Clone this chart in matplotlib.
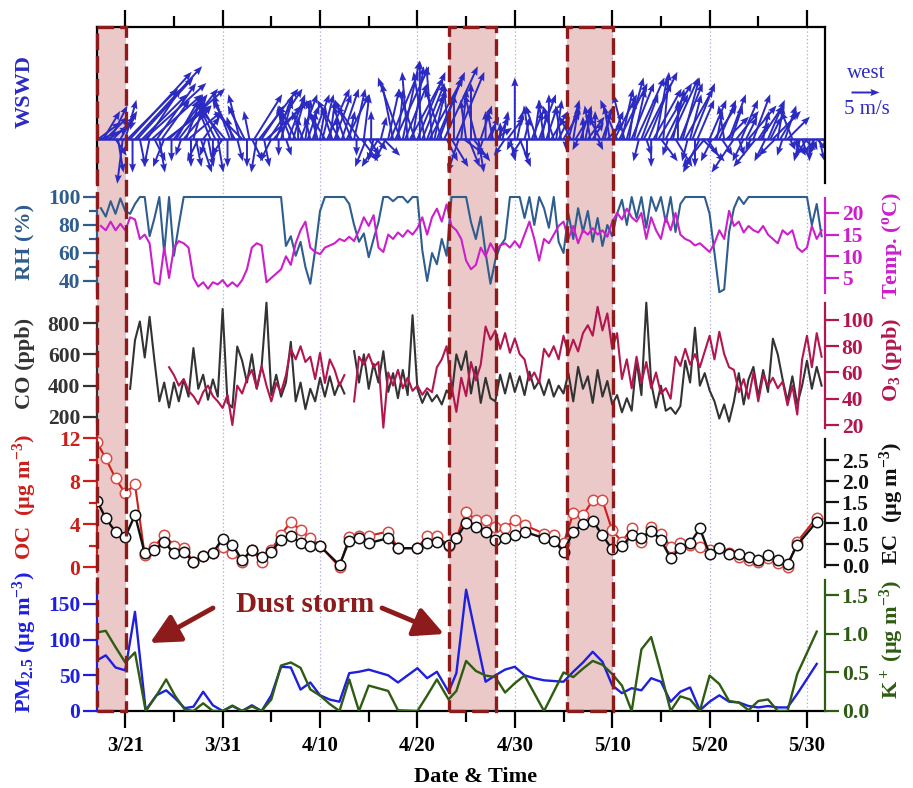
import numpy as np
import matplotlib
matplotlib.use("Agg")
import matplotlib.pyplot as plt
from matplotlib.patches import Rectangle
from matplotlib.ticker import FormatStrFormatter

plt.rcParams['font.family'] = 'Liberation Serif'
plt.rcParams['font.weight'] = 'bold'
plt.rcParams['mathtext.fontset'] = 'custom'
plt.rcParams['mathtext.rm'] = 'Liberation Serif:bold'
plt.rcParams['mathtext.it'] = 'Liberation Serif:bold'
plt.rcParams['mathtext.bf'] = 'Liberation Serif:bold'
plt.rcParams['mathtext.default'] = 'rm'

# ---- data (x = days since 3/1) ----
major_days = [20, 30, 40, 50, 60, 70, 80, 90]
date_labels = ['3/21', '3/31', '4/10', '4/20', '4/30', '5/10', '5/20', '5/30']
minor_days = [25, 35, 45, 55, 65, 75, 85]
storm_spans = [(17.12, 20.1), (53.2, 58.1), (65.4, 70.1)]

# wind vectors (m/s), every 6 h from 3/18 06:00
wind_u = [4, 5, 3, 4, 5, 3, 4, 2, 1, 3, -1, 2, 9, 11, 0, 12, 10, 1, 8, 11,
          6, -1, 9, 2, 7, 1, 5, -2, 8, 10, 0, 6, 4, 7, -1, 5, 3, 6, 0, 2,
          1, -2, 2, 3, -1, 1, -2, 0, -3, 1, -4, -2, -5, 0, -3, -1, -4, 1, -2, -5,
          -3, 0, -1, 2, 5, -1, 7, 4, 1, 8, 6, -2, 5, 3, 0, 2, -1, 1, 3, -2,
          2, -3, 0, 3, -2, 1, 2, -1, 3, 0, -2, 1, 2, -3, 4, 1, -2, 3, 0, -4,
          3, -2, 4, 1, -3, 2, 0, -4, 3, 1, -2, 2, 0, -1, 2, -3, 1, 3, -2, 2,
          5, -2, 6, 1, -4, 3, 4, -1, 6, 2, -3, 5, 0, 4, -2, 3, 6, -1, 2, 5,
          4, -3, 6, 2, -1, 3, 0, 5, -2, 1, 4, -1, 2, 0, 3, -2, 1, 2, -1, 0,
          2, 1, -1, 3, 2, 0, 1, -2, 3, 1, -1, 0, 1, 2, -2, 1, 0, -1, 2, 1,
          -2, 3, 1, -1, 2, 0, 3, -2, 1, 2, -1, 3, 0, 2, -2, 1, 3, -1, 2, 0,
          1, 3, -1, 2, 0, 1, -2, 2, 1, 3, -1, 2, 4, -3, 5, 2, -2, 3, 1, 4,
          2, 5, -1, 3, 6, 1, 4, 0, 5, 2, 6, 3, 1, 4, -1, 5, 2, 3, 0, 4,
          3, 5, -1, 2, 4, 0, 3, -3, 4, -4, 2, 3, -2, 4, 1, 3, 2, -1, 4, 3,
          2, -4, 4, 1, 3, -2, 2, 5, -1, 3, -4, 2, 4, 1, -2, 3, 2, 5, -3, 1,
          3, -1, 2, 4, 1, -2, 2, 0, -1, 1, 2, -2, 0, 1, -1, 2, 1, 3, 2]
wind_v = [3, 2, 5, 4, 3, 6, 4, -3, -6, 5, -8, 7, 9, 12, -6, 13, 11, -5, 8, 10,
          9, -5, 8, -4, 10, -6, 7, -5, 6, 9, -4, 8, 7, 9, -3, 6, 8, 5, -5, 7,
          -5, -4, -6, 4, -3, -5, 5, -4, 6, -6, 7, -3, 6, -5, 8, 4, 7, -4, 8, 5,
          6, -5, 5, -4, 8, -6, 9, 6, -5, 7, 9, -4, 6, 8, -3, 7, 6, -3, 8, 5,
          7, 6, 4, 8, 5, 7, 6, 4, 8, 5, 7, 6, 8, 5, 9, 7, 6, 8, 4, 7,
          9, 6, 8, 5, 7, 9, -3, 6, -4, 8, -5, -3, 5, -4, -2, -5, 4, -3, -4, 9,
          12, 10, 13, 9, 11, 14, 10, 12, 11, 13, 9, 12, 14, 10, 12, 8, 11, 13, 9, 12,
          11, 9, 13, -4, 10, -5, 8, 12, -6, 9, -3, 7, -5, 10, -4, 8, -6, 6, -3, 5,
          4, 3, 5, 2, 4, 3, 5, -3, 4, -4, -2, 11, 5, -5, -3, 4, -4, 6, 5, 7,
          6, 8, 5, 7, 6, 8, 5, 6, 7, 4, 6, 5, -2, 7, 4, 6, 5, -2, 6, 4,
          5, 4, 6, 3, 5, -2, 4, 6, 5, 3, 6, 5, 8, 7, 10, 9, 8, 11, 7, 10,
          9, 11, -4, 8, 12, -3, 10, -5, 9, 11, 10, -4, 12, 8, -3, 11, 9, -5, 7, 10,
          11, 9, -4, 8, 10, -5, 7, -6, -4, -5, -3, 7, -4, 6, 5, 7, -3, 6, 4, 8,
          6, -6, 5, -3, 7, -4, 4, 6, -2, 8, -5, 3, 6, 5, -4, 7, 4, 5, -3, 6,
          5, -3, 6, 4, -2, 5, -3, -2, -4, -3, -2, -3, -4, -2, -3, -2, -4, -2, -3]

# meteorology / gases, every 12 h from 3/18 12:00
rh = [92, 86, 97, 88, 99, 90, 88, 95, 100, 100,
      72, 85, 100, 60, 100, 58, 80, 100, 100, 100,
      100, 100, 100, 100, 100, 100, 100, 100, 100, 100,
      100, 100, 100, 100, 100, 100, 100, 100, 65, 72,
      58, 68, 50, 38, 62, 90, 100, 100, 100, 100,
      100, 95, 80, 68, 74, 57, 70, 82, 100, 100,
      97, 100, 100, 96, 100, 100, 62, 40, 60, 52,
      70, 58, 100, 100, 100, 100, 82, 70, 86, 60,
      38, 55, 65, 70, 100, 100, 100, 85, 100, 80,
      100, 92, 78, 100, 68, 60, 88, 70, 92, 75,
      90, 68, 85, 65, 80, 72, 88, 98, 80, 100,
      85, 100, 78, 100, 90, 100, 82, 100, 75, 95,
      100, 100, 100, 100, 100, 88, 60, 32, 34, 75,
      92, 100, 95, 100, 100, 100, 100, 100, 100, 100,
      100, 100, 100, 100, 100, 100, 80, 95, 72]
temp = [17, 16, 18, 16, 17.5, 16, 19, 18.5, 14, 15,
        13, 4, 3.5, 12, 5, 12, 13.5, 13, 12, 5,
        3, 4, 2.5, 4, 3.5, 4.5, 3, 4, 3, 4.5,
        7, 12, 13, 12.5, 4, 5, 6, 7, 10, 8,
        13, 16, 18, 12, 11, 10.5, 12, 12.5, 13, 14,
        13.5, 14.5, 13.5, 16, 19, 17, 19.5, 12, 11, 15,
        14, 15.5, 14.5, 16, 15, 16.5, 19, 15, 19, 21,
        18, 22, 17, 16, 14, 9, 7, 8, 12, 10,
        13, 11, 12.5, 13, 12, 13.5, 12, 15, 18, 14,
        9, 14, 13, 15, 17, 18, 14, 17, 13, 16,
        15, 16.5, 15, 16, 14.5, 18, 20, 18.5, 21, 19,
        18, 20, 14, 19, 16, 14, 19, 16, 20, 15,
        14, 13.5, 12.5, 13, 12, 11, 13, 16, 14, 20.5,
        17, 18, 15.5, 17, 16, 15.5, 17, 15, 14, 13,
        16, 15, 16, 12, 11, 12, 17, 14, 16]
co = [None, None, None, None, None, None, 380, 690, 810, 580,
      840, 560, 300, 420, 260, 420, 300, 440, 330, 640,
      380, 470, 310, 440, 330, 890, 290, 260, 650, 560,
      420, 600, 380, 520, 930, 340, 470, 330, 420, 680,
      300, 420, 250, 380, 300, 450, 330, 460, 340, 420,
      350, None, 620, 420, 600, 380, 540, 420, 620, 360,
      480, 320, 500, 340, 850, 380, 290, 360, 300, 340,
      280, 370, 330, 600, 500, 620, 350, 520, 290, 450,
      320, 300, 470, 350, 480, 360, 460, 340, 490, 380,
      430, 340, 440, 330, 400, 350, 480, 300, 520, 380,
      460, 290, 500, 330, 430, 280, 340, 230, 320, 240,
      560, 340, 930, 420, 260, 400, 240, 260, 220, 270,
      560, 420, 770, 400, 480, 370, 300, 190, 280, 170,
      300, 480, 280, 440, 520, 330, 500, 360, 700, 600,
      440, 300, 460, 280, 400, 560, 380, 520, 400]
o3 = [None, None, None, None, None, None, None, None, None, None,
      None, None, None, None, 64, 58, 50, 55, 46, 42,
      36, 45, 50, 42, 38, 33, 43, 20, 50, 44,
      55, 62, 48, 65, 50, 38, 52, 45, 58, 78,
      70, 80, 68, 72, 55, 75, 52, 70, 62, 50,
      58, None, 38, 72, 66, 74, 64, 68, 18, 60,
      50, 62, 48, 56, 46, 50, 43, 48, 45, 64,
      70, 80, 50, 30, 56, 42, 68, 54, 66, 95,
      85, 92, 78, 90, 75, 86, 74, 70, 54, 60,
      52, 78, 72, 80, 70, 88, 74, 85, 76, 90,
      96, 88, 110, 92, 105, 78, 90, 55, 70, 48,
      72, 52, 68, 48, 60, 44, 48, 40, 72, 65,
      78, 66, 74, 64, 76, 88, 70, 91, 74, 64,
      62, 45, 55, 40, 60, 38, 58, 50, 56, 48,
      53, 35, 50, 28, 70, 88, 64, 90, 72]

# daily filter samples
carbon_days = [17.1, 18, 19, 20, 21, 22, 23, 24, 25, 26,
               27, 28, 29, 30, 31, 32, 33, 34, 35, 36,
               37, 38, 39, 40, 42, 43, 44, 45, 47, 48,
               50, 51, 52, 53.2, 54, 55, 56, 57, 58, 59,
               60, 61, 63, 64, 65, 66, 67, 68, 69, 70,
               71, 72, 73, 74, 75, 76, 77, 78, 79, 80,
               81, 82, 83, 84, 85, 86, 87, 88, 89, 91]
oc = [11.6, 10.1, 8.25, 6.85, 7.7, 1.1, 1.9, 3.0, 2.0, 1.8,
      0.5, 1.05, 1.3, 1.9, 1.3, 0.5, 1.6, 0.5, 1.6, 3.0,
      4.2, 3.4, 2.7, 2.0, 0.0, 2.8, 2.9, 2.9, 3.3, 1.75,
      1.75, 2.9, 2.9, 2.0, 2.7, 5.1, 4.4, 4.4, 3.75, 3.6,
      4.4, 3.9, 3.1, 3.0, 2.2, 5.0, 4.8, 6.2, 6.2, 3.4,
      2.35, 3.6, 2.35, 3.75, 3.1, 1.9, 2.2, 2.05, 1.9, 1.6,
      1.75, 1.3, 0.95, 0.65, 0.5, 0.8, 0.35, 0.0, 2.35, 4.6]
ec = [1.53, 1.11, 0.79, 0.67, 1.19, 0.28, 0.36, 0.55, 0.28, 0.32,
      0.08, 0.22, 0.29, 0.63, 0.48, 0.12, 0.36, 0.2, 0.32, 0.6,
      0.69, 0.53, 0.45, 0.45, 0.0, 0.58, 0.64, 0.52, 0.64, 0.4,
      0.4, 0.52, 0.55, 0.48, 0.64, 1.0, 0.91, 0.79, 0.6, 0.64,
      0.71, 0.79, 0.64, 0.58, 0.32, 0.79, 0.98, 1.05, 0.71, 0.37,
      0.45, 0.71, 0.64, 0.82, 0.6, 0.16, 0.4, 0.52, 0.87, 0.26,
      0.4, 0.26, 0.26, 0.18, 0.12, 0.24, 0.12, 0.02, 0.48, 1.03]

pm_days = [17.1, 18, 19, 20, 21, 22.1, 23.2, 24.2, 25.1, 26.1,
           27, 28, 29, 30, 31, 32, 33, 34, 35, 36,
           37, 38, 39, 40, 41, 42, 43, 44, 45, 47,
           48, 50, 51, 52, 53.2, 54, 55, 56, 57, 58,
           59, 60, 61, 62, 63, 65, 66, 67, 68, 69,
           70, 71, 72, 73, 74, 75, 76, 77, 78, 79,
           80, 81, 82, 83, 84, 85, 86, 87, 88, 89, 91]
pm25 = [71, 78, 61, 57, 139, 1, 22, 29, 18, 4,
        6, 27, 8, 0, 7, 0, 8, 0, 22, 62,
        61, 30, 40, 22, 16, 13, 53, 55, 58, 50,
        40, 60, 46, 55, 27, 53, 170, 105, 41, 50,
        58, 62, 50, 46, 43, 41, 55, 68, 83, 69,
        36, 25, 32, 29, 46, 41, 13, 27, 33, 1,
        13, 22, 13, 12, 7, 5, 7, 5, 5, 24, 66]
k_ion = [1.02, 1.04, 0.83, 0.63, 0.76, 0.0, 0.2, 0.41, 0.2, 0.02,
         0.0, 0.1, 0.0, 0.0, 0.07, 0.0, 0.06, 0.0, 0.15, 0.59,
         0.63, 0.56, 0.28, 0.2, 0.09, 0.0, 0.41, 0.0, 0.33, 0.26,
         0.01, 0.0, 0.2, 0.41, 0.15, 0.26, 0.65, 0.52, 0.46, 0.44,
         0.24, 0.36, 0.46, 0.23, 0.0, 0.5, 0.44, 0.55, 0.65, 0.6,
         0.48, 0.33, 0.0, 0.8, 0.96, 0.5, 0.0, 0.19, 0.15, 0.0,
         0.46, 0.35, 0.13, 0.11, 0.01, 0.13, 0.15, 0.0, 0.0, 0.48, 1.03]

# ---- colours ----
wind_c = '#2b2bc4'
rh_c = '#2e5d8e'
temp_c = '#cc1fcc'
co_c = '#333333'
o3_c = '#b3164f'
oc_c = '#cc1f1a'
ec_c = '#111111'
pm_c = '#1f1fe0'
k_c = '#2e5c12'
dust_c = '#8e1b1b'
shade_c = '#ebc9c9'

W, H = 913, 788
fig = plt.figure(figsize=(W / 100, H / 100), dpi=100)


def box(x0, y0, x1, y1):
    return [x0 / W, 1 - y1 / H, (x1 - x0) / W, (y1 - y0) / H]


def fpos(x, y):
    return (x / W, 1 - y / H)


X0, X1 = 97, 825
t_lo, t_hi = 17.1, 91.85

# background frame: shading, grid, date axis
back = fig.add_axes(box(X0, 27, X1, 711))
back.set_xlim(t_lo, t_hi)
back.set_ylim(0, 1)
for a, b in storm_spans:
    back.axvspan(a, b, color=shade_c, lw=0)
for d in major_days[1:]:
    back.axvline(d, color='#a9a9e2', lw=0.9, ls=(0, (1, 2)))
back.set_yticks([])
back.set_xticks(major_days)
back.set_xticklabels(date_labels, fontsize=15)
back.set_xticks(minor_days, minor=True)
back.tick_params(axis='x', which='major', direction='out', length=12, width=1.6,
                 top=True, bottom=True, labeltop=False, pad=6)
back.tick_params(axis='x', which='minor', direction='out', length=8, width=1.6,
                 top=True, bottom=True)
back.spines['left'].set_visible(False)
back.spines['right'].set_visible(False)
back.spines['top'].set_linewidth(1.6)
back.spines['bottom'].set_linewidth(1.6)


def panel(y0, y1):
    ax = fig.add_axes(box(X0, y0, X1, y1))
    ax.set_xlim(t_lo, t_hi)
    ax.patch.set_visible(False)
    ax.set_xticks([])
    for s in ('top', 'bottom', 'right'):
        ax.spines[s].set_visible(False)
    return ax


def style_y(ax, side, color, lo, hi, ticks, minor=None, fmt=None):
    other = 'right' if side == 'left' else 'left'
    ax.spines[other].set_visible(False)
    sp = ax.spines[side]
    sp.set_visible(True)
    sp.set_color(color)
    sp.set_linewidth(1.6)
    sp.set_bounds(lo, hi)
    ax.set_yticks(ticks)
    if minor is not None:
        ax.set_yticks(minor, minor=True)
    if fmt is not None:
        ax.yaxis.set_major_formatter(FormatStrFormatter(fmt))
    ax.tick_params(axis='y', which='both', colors=color, direction='out', width=1.6,
                   labelsize=15.5, left=(side == 'left'), right=(side == 'right'),
                   labelleft=(side == 'left'), labelright=(side == 'right'))
    ax.tick_params(axis='y', which='major', length=10, pad=2)
    ax.tick_params(axis='y', which='minor', length=6)


# ---- WSWD ----
axw = panel(27, 190)
axw.set_ylim(-51, 112)
wind_t = 17.25 + 0.25 * np.arange(len(wind_u))
axw.axhline(0, color=wind_c, lw=1.8)
q = axw.quiver(wind_t, np.zeros(len(wind_u)), wind_u, wind_v, angles='uv',
               scale_units='inches', scale=5 / 0.28, pivot='tail', color=wind_c,
               width=0.0027, headwidth=3.6, headlength=4.6, headaxislength=4.1)
axw.set_yticks([])
axw.spines['left'].set_bounds(-44, 112)
axw.spines['right'].set_visible(True)
axw.spines['right'].set_bounds(-44, 112)
for s in ('left', 'right'):
    axw.spines[s].set_linewidth(1.6)
axw.quiverkey(q, 865 / W, 1 - 92 / H, 5, '', coordinates='figure', color=wind_c)
fig.text(866 / W, 1 - 73 / H, 'west', fontsize=15, color=wind_c, ha='center',
         va='center', fontweight='normal')
fig.text(867 / W, 1 - 110 / H, '5 m/s', fontsize=15, color=wind_c, ha='center',
         va='center', fontweight='normal')

# ---- RH / Temp ----
met_t = 17.5 + 0.5 * np.arange(len(rh))
axr = panel(190, 295)
axr.set_ylim(30, 105)
axr.plot(met_t, rh, color=rh_c, lw=1.5)
style_y(axr, 'left', rh_c, 33, 103, [40, 60, 80, 100], minor=[50, 70, 90])
axt = axr.twinx()
axt.set_ylim(1.06, 25.3)
axt.plot(17.5 + 0.5 * np.arange(len(temp)), temp, color=temp_c, lw=1.5)
style_y(axt, 'right', temp_c, 1.5, 23.5, [5, 10, 15, 20])
for s in ('top', 'bottom'):
    axt.spines[s].set_visible(False)

# ---- CO / O3 ----
axc = panel(300, 430)
axc.set_ylim(117, 947)
axc.plot(17.5 + 0.5 * np.arange(len(co)), np.array(co, dtype=float), color=co_c, lw=1.5)
style_y(axc, 'left', co_c, 170, 900, [200, 400, 600, 800])
axo = axc.twinx()
axo.set_ylim(16.2, 115.2)
axo.plot(17.5 + 0.5 * np.arange(len(o3)), np.array(o3, dtype=float), color=o3_c, lw=1.5)
style_y(axo, 'right', o3_c, 18, 113, [20, 40, 60, 80, 100])
for s in ('top', 'bottom'):
    axo.spines[s].set_visible(False)

# ---- OC / EC ----
axoc = panel(432, 575)
axoc.set_ylim(-0.744, 12.56)
axoc.plot(carbon_days, oc, color=oc_c, lw=1.5, marker='o', ms=7.5, mfc='white',
          mec='#d94a44', mew=1.1)
style_y(axoc, 'left', oc_c, -0.5, 12.3, [0, 4, 8, 12], minor=[2, 6, 10])
axec = axoc.twinx()
axec.set_ylim(-0.238, 3.167)
axec.plot(carbon_days, ec, color=ec_c, lw=1.7, marker='o', ms=7.5, mfc='white',
          mec=ec_c, mew=1.1)
style_y(axec, 'right', ec_c, -0.05, 3.0, [0, 0.5, 1.0, 1.5, 2.0, 2.5], fmt='%.1f')
for s in ('top', 'bottom'):
    axec.spines[s].set_visible(False)

# ---- PM2.5 / K+ ----
axp = panel(580, 711)
axp.set_ylim(0, 183.6)
axp.plot(pm_days, pm25, color=pm_c, lw=1.7)
style_y(axp, 'left', pm_c, 0, 180, [0, 50, 100, 150])
axk = axp.twinx()
axk.set_ylim(0, 1.70)
axk.plot(pm_days, k_ion, color=k_c, lw=1.7)
style_y(axk, 'right', k_c, 0, 1.7, [0, 0.5, 1.0, 1.5], fmt='%.1f')
for s in ('top', 'bottom'):
    axk.spines[s].set_visible(False)

# ---- overlay: dashed storm boxes, annotation ----
top = fig.add_axes(box(X0, 27, X1, 711))
top.set_xlim(t_lo, t_hi)
top.set_ylim(0, 1)
top.axis('off')
for a, b in storm_spans:
    top.add_patch(Rectangle((a, 0), b - a, 1, fill=False, ec=dust_c, lw=2.4,
                            ls=(0, (5, 1.8)), clip_on=False))
fig.text(*fpos(305, 604), 'Dust storm', fontsize=21, color=dust_c, ha='center', va='center')
for tail, head in [((213, 608), (150, 643)), ((382, 608), (444, 634))]:
    top.annotate('', xy=fpos(*head), xytext=fpos(*tail), xycoords='figure fraction',
                 textcoords='figure fraction', annotation_clip=False,
                 arrowprops=dict(arrowstyle='-|>,head_length=1.0,head_width=0.5',
                                 color=dust_c, lw=3.5, mutation_scale=18,
                                 shrinkA=0, shrinkB=0))

# ---- axis titles ----
left_labels = [('WSWD', 92, wind_c),
               ('RH (%)', 242, rh_c),
               ('CO (ppb)', 363, co_c),
               ('OC  (µg m$^{-3}$)', 497, oc_c),
               ('PM$_{2.5}$ (µg m$^{-3}$)', 642, pm_c)]
for txt, yc, c in left_labels:
    fig.text(*fpos(25, yc), txt, rotation=90, fontsize=16, color=c, ha='center', va='center')
right_labels = [('Temp. ($^{\\rm o}$C)', 245, temp_c),
                ('O$_3$ (ppb)', 360, o3_c),
                ('EC  (µg m$^{-3}$)', 503, ec_c),
                ('K$^+$ (µg m$^{-3}$)', 640, k_c)]
for txt, yc, c in right_labels:
    fig.text(*fpos(892, yc), txt, rotation=90, fontsize=16, color=c, ha='center', va='center')

fig.text(*fpos(476, 777), 'Date & Time', fontsize=16, ha='center', va='center')

fig.savefig('out.png', dpi=100)
